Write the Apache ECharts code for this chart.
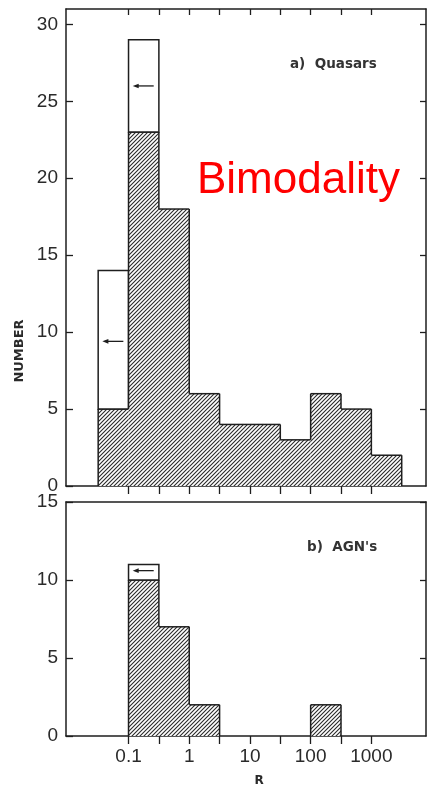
<!DOCTYPE html>
<html>
<head>
<meta charset="utf-8">
<script src="https://cdn.jsdelivr.net/npm/echarts@6/dist/echarts.min.js"></script>
<style>
html,body{margin:0;padding:0;background:#fff;}
#chart{width:428px;height:787px;}
</style>
</head>
<body>
<div id="chart"></div>
<script>
// ---- data (x in log10 R) ----
const binStart = [-1.5, -1, -0.5, 0, 0.5, 1, 1.5, 2, 2.5, 3];
const binWidth = 0.5;
const quasarDetected = [5, 23, 18, 6, 4, 4, 3, 6, 5, 2];
const quasarTotal    = [14, 29, 18, 6, 4, 4, 3, 6, 5, 2];
const agnDetected    = [0, 10, 7, 2, 0, 0, 0, 2, 0, 0];
const agnTotal       = [0, 11, 7, 2, 0, 0, 0, 2, 0, 0];
// upper-limit arrows: [bin centre (log10 R), number]
const quasarArrows = [[-1.25, 9.4], [-0.75, 26]];
const agnArrows    = [[-0.75, 10.6]];
const xTickValues  = [-1, -0.5, 0, 0.5, 1, 1.5, 2, 2.5, 3];
const xLabelValues = [-1, 0, 1, 2, 3];
const xLabelText   = ['0.1', '1', '10', '100', '1000'];
const yTopTicks    = [0, 5, 10, 15, 20, 25, 30];
const yBottomTicks = [0, 5, 10, 15];
const panelTitles  = ['a)  Quasars', 'b)  AGN\'s'];

// ---- hatch pattern ----
function makeHatch() {
  const s = 4;
  const c = document.createElement('canvas');
  c.width = s; c.height = s;
  const g = c.getContext('2d');
  g.fillStyle = '#ffffff';
  g.fillRect(0, 0, s, s);
  g.strokeStyle = '#2a2a2a';
  g.lineWidth = 1.1;
  g.beginPath();
  g.moveTo(-1, s + 1); g.lineTo(s + 1, -1);
  g.moveTo(-1, 1); g.lineTo(1, -1);
  g.moveTo(s - 1, s + 1); g.lineTo(s + 1, s - 1);
  g.stroke();
  return c;
}
const hatch = { image: makeHatch(), repeat: 'repeat' };
const INK = '#1e1e1e';

function histData(det, tot) {
  return binStart.map((x0, i) => [
    x0, x0 + binWidth, det[i], tot[i],
    i > 0 ? det[i - 1] : 0,
    i < det.length - 1 ? det[i + 1] : 0
  ]);
}

function renderHist(params, api) {
  const x0 = api.value(0), x1 = api.value(1), d = api.value(2), t = api.value(3);
  const p = api.value(4), n = api.value(5);
  const children = [];
  const bl = api.coord([x0, 0]);
  const br = api.coord([x1, 0]);
  const w = br[0] - bl[0];
  const lineStyle = { stroke: INK, lineWidth: 1.5, fill: null };
  if (d > 0) {
    const top = api.coord([x0, d])[1];
    children.push({ type: 'rect', shape: { x: bl[0], y: top, width: w, height: bl[1] - top },
      style: { fill: hatch } });
    children.push({ type: 'line', shape: { x1: bl[0], y1: top, x2: br[0], y2: top }, style: lineStyle });
    if (p < d) {
      const yp = api.coord([x0, p])[1];
      children.push({ type: 'line', shape: { x1: bl[0], y1: yp, x2: bl[0], y2: top }, style: lineStyle });
    }
    if (n < d) {
      const yn = api.coord([x1, n])[1];
      children.push({ type: 'line', shape: { x1: br[0], y1: yn, x2: br[0], y2: top }, style: lineStyle });
    }
  }
  if (t > d) {
    const yt = api.coord([x0, t])[1];
    const yd = api.coord([x0, d])[1];
    children.push({ type: 'rect', shape: { x: bl[0], y: yt, width: w, height: yd - yt },
      style: { fill: '#ffffff', stroke: INK, lineWidth: 1.5 } });
  }
  return { type: 'group', children: children };
}

function renderArrow(params, api) {
  const c = api.coord([api.value(0), api.value(1)]);
  const cx = c[0], cy = c[1];
  return { type: 'group', children: [
    { type: 'line', shape: { x1: cx - 8, y1: cy, x2: cx + 10, y2: cy }, style: { stroke: INK, lineWidth: 1.3 } },
    { type: 'polygon', shape: { points: [[cx - 11, cy], [cx - 5, cy - 2.3], [cx - 5, cy + 2.3]] }, style: { fill: INK } }
  ]};
}

const LEFT = 66, RIGHT = 2;
const XMIN = -2.03, XMAX = 3.9;
const axisLine = { show: true, onZero: false, lineStyle: { color: INK, width: 1.5 } };
const labelFont = { color: '#2a2a2a', fontFamily: 'Liberation Sans', fontSize: 19 };

function xAxisDef(grid, pos, opts) {
  return Object.assign({
    type: 'value', gridIndex: grid, position: pos, min: XMIN, max: XMAX,
    axisLine: axisLine, splitLine: { show: false },
    axisTick: { show: false }, axisLabel: { show: false }
  }, opts);
}
function yAxisDef(grid, pos, max, opts) {
  return Object.assign({
    type: 'value', gridIndex: grid, position: pos, min: 0, max: max,
    axisLine: axisLine, splitLine: { show: false },
    axisTick: { show: false }, axisLabel: { show: false }
  }, opts);
}

const chart = echarts.init(document.getElementById('chart'), null, { renderer: 'canvas' });
chart.setOption({
  backgroundColor: '#ffffff',
  animation: false,
  grid: [
    { left: LEFT, right: RIGHT, top: 9, height: 477 },
    { left: LEFT, right: RIGHT, top: 502, height: 234 }
  ],
  xAxis: [
    xAxisDef(0, 'bottom', { axisTick: { show: true, inside: false, length: 8, customValues: xTickValues, lineStyle: { color: INK, width: 1.3 } } }),
    xAxisDef(0, 'top', { axisTick: { show: true, inside: true, length: 6, customValues: xTickValues, lineStyle: { color: INK, width: 1.3 } } }),
    xAxisDef(1, 'bottom', {
      axisTick: { show: true, inside: false, length: 8, customValues: xTickValues, lineStyle: { color: INK, width: 1.3 } },
      axisLabel: Object.assign({ show: true, margin: 11, customValues: xLabelValues,
        formatter: v => xLabelText[xLabelValues.indexOf(Math.round(v))] || '' }, labelFont)
    }),
    xAxisDef(1, 'top', {})
  ],
  yAxis: [
    yAxisDef(0, 'left', 31, {
      axisTick: { show: true, inside: true, length: 7, customValues: yTopTicks, lineStyle: { color: INK, width: 1.3 } },
      axisLabel: Object.assign({ show: true, margin: 8, customValues: yTopTicks }, labelFont)
    }),
    yAxisDef(0, 'right', 31, {
      axisTick: { show: true, inside: true, length: 6, customValues: yTopTicks.slice(1), lineStyle: { color: INK, width: 1.3 } }
    }),
    yAxisDef(1, 'left', 15, {
      axisTick: { show: true, inside: true, length: 7, customValues: yBottomTicks, lineStyle: { color: INK, width: 1.3 } },
      axisLabel: Object.assign({ show: true, margin: 8, customValues: yBottomTicks }, labelFont)
    }),
    yAxisDef(1, 'right', 15, {
      axisTick: { show: true, inside: true, length: 6, customValues: yBottomTicks.slice(1), lineStyle: { color: INK, width: 1.3 } }
    })
  ],
  series: [
    { type: 'custom', xAxisIndex: 0, yAxisIndex: 0, renderItem: renderHist, data: histData(quasarDetected, quasarTotal), clip: true, z: 2 },
    { type: 'custom', xAxisIndex: 0, yAxisIndex: 0, renderItem: renderArrow, data: quasarArrows, z: 3 },
    { type: 'custom', xAxisIndex: 2, yAxisIndex: 2, renderItem: renderHist, data: histData(agnDetected, agnTotal), clip: true, z: 2 },
    { type: 'custom', xAxisIndex: 2, yAxisIndex: 2, renderItem: renderArrow, data: agnArrows, z: 3 }
  ],
  graphic: [
    { type: 'text', left: 290, top: 57, style: { text: panelTitles[0], fill: '#333', font: 'bold 13.5px "DejaVu Sans"' } },
    { type: 'text', left: 307, top: 540, style: { text: panelTitles[1], fill: '#333', font: 'bold 13.5px "DejaVu Sans"' } },
    { type: 'text', x: 197, y: 159, style: { text: 'Bimodality', fill: '#ff0000', font: '44px "Liberation Sans"' } },
    { type: 'text', x: 20, y: 351, rotation: Math.PI / 2, style: { text: 'NUMBER', fill: '#2a2a2a', font: 'bold 13px "DejaVu Sans"', align: 'center', verticalAlign: 'middle' } },
    { type: 'text', x: 259, y: 781, style: { text: 'R', fill: '#2a2a2a', font: 'bold 12px "DejaVu Sans"', align: 'center', verticalAlign: 'middle' } }
  ]
});
</script>
</body>
</html>
